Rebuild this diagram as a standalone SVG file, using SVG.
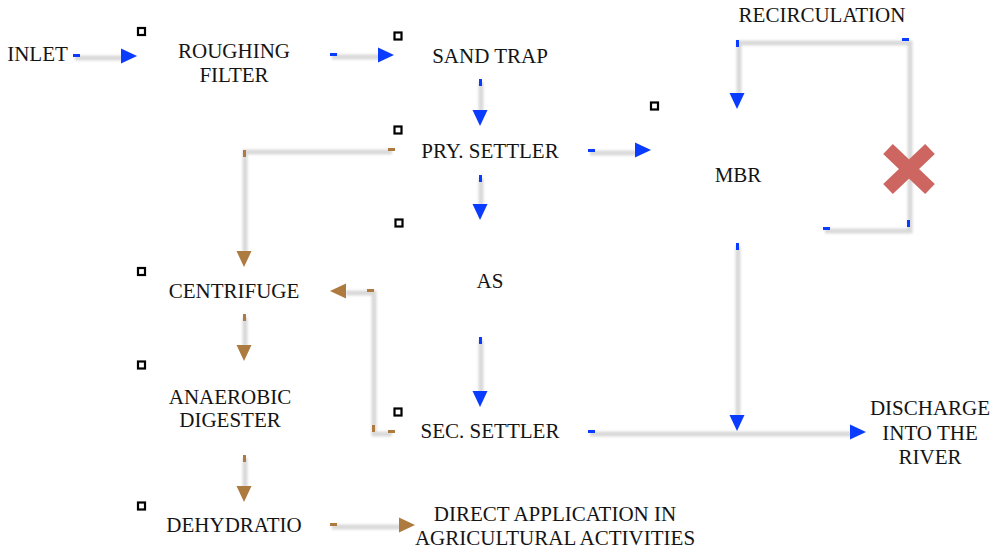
<svg xmlns="http://www.w3.org/2000/svg" width="996" height="549" viewBox="0 0 996 549">
<style>
.t{font-family:"Liberation Serif","Times New Roman",Tinos,"Noto Serif","DejaVu Serif",serif;font-size:21px;fill:#141414;text-anchor:middle}
.ln{fill:none;stroke:#d9d9d9;stroke-width:5;filter:url(#sh)}
.b{fill:#0a3cff}
.o{fill:#ad7a40}
.sq{fill:#fff;stroke:#000;stroke-width:2.2}
</style>
<defs>
<filter id="sh" filterUnits="userSpaceOnUse" x="0" y="0" width="996" height="549"><feGaussianBlur stdDeviation="0.9"/></filter>
<path id="ah" d="M0,0 L-16,-7.5 L-16,7.5 Z"/>
</defs>
<rect width="996" height="549" fill="#fff"/>
<g id="connectors">
<path class="ln" d="M75,58 H122"/><rect class="b" x="73" y="54" width="7" height="3"/><use href="#ah" class="b" transform="translate(137,56)"/>
<path class="ln" d="M332,57 H379"/><rect class="b" x="330" y="53" width="7" height="3"/><use href="#ah" class="b" transform="translate(394,55)"/>
<path class="ln" d="M481,82 V111"/><rect class="b" x="479" y="79" width="3" height="7"/><use href="#ah" class="b" transform="translate(480,126) rotate(90)"/>
<path class="ln" d="M590,153 H636"/><rect class="b" x="588" y="149" width="7" height="3"/><use href="#ah" class="b" transform="translate(651,150)"/>
<path class="ln" d="M481,178 V205"/><rect class="b" x="479" y="175" width="3" height="7"/><use href="#ah" class="b" transform="translate(480,220) rotate(90)"/>
<path class="ln" d="M392,152 H245 V252"/><rect class="o" x="388" y="148" width="7" height="3"/><rect class="o" x="243" y="150" width="3" height="7"/><use href="#ah" class="o" transform="translate(244,267) rotate(90)"/>
<path class="ln" d="M392,434 H374 V293 H346"/><rect class="o" x="388" y="430" width="7" height="3"/><rect class="o" x="372" y="425" width="3" height="7"/><rect class="o" x="367" y="289" width="7" height="3"/><use href="#ah" class="o" transform="translate(330,291) rotate(180)"/>
<path class="ln" d="M481,340 V392"/><rect class="b" x="479" y="337" width="3" height="7"/><use href="#ah" class="b" transform="translate(480,407) rotate(90)"/>
<path class="ln" d="M590,434 H851"/><rect class="b" x="588" y="430" width="7" height="3"/><use href="#ah" class="b" transform="translate(866,432)"/>
<path class="ln" d="M738,246 V416"/><rect class="b" x="736" y="243" width="3" height="7"/><use href="#ah" class="b" transform="translate(737,431) rotate(90)"/>
<path class="ln" d="M825,231 H910 V43 H739 V94"/><rect class="b" x="823" y="227" width="7" height="3"/><rect class="b" x="907" y="220" width="3" height="7"/><rect class="b" x="902" y="38" width="7" height="3"/><rect class="b" x="736" y="40" width="3" height="7"/><use href="#ah" class="b" transform="translate(737,109) rotate(90)"/>
<path class="ln" d="M245,317 V346"/><rect class="o" x="243" y="314" width="3" height="7"/><use href="#ah" class="o" transform="translate(244,361) rotate(90)"/>
<path class="ln" d="M245,458 V487"/><rect class="o" x="243" y="455" width="3" height="7"/><use href="#ah" class="o" transform="translate(244,502) rotate(90)"/>
<path class="ln" d="M332,527 H400"/><rect class="o" x="330" y="523" width="7" height="3"/><use href="#ah" class="o" transform="translate(415,525)"/>
</g>
<g id="cross"><path d="M888,149 L930,189 M930,149 L888,189" stroke="#cd6660" stroke-width="14" fill="none"/></g>
<g id="inlet"><text class="t" x="37.5" y="61">INLET</text></g>
<g id="roughing"><rect class="sq" x="138" y="28" width="7" height="7"/><text class="t" x="234" y="58">ROUGHING</text><text class="t" x="234" y="82">FILTER</text></g>
<g id="sandtrap"><rect class="sq" x="394.5" y="32.5" width="7" height="7"/><text class="t" x="490" y="63">SAND TRAP</text></g>
<g id="prysettler"><rect class="sq" x="394.5" y="126.5" width="7" height="7"/><text class="t" x="490" y="158">PRY. SETTLER</text></g>
<g id="mbr"><rect class="sq" x="651" y="102.5" width="7" height="7"/><text class="t" x="738" y="182">MBR</text></g>
<g id="recirculation"><text class="t" x="822" y="22">RECIRCULATION</text></g>
<g id="as"><rect class="sq" x="395.5" y="219.5" width="7" height="7"/><text class="t" x="490" y="288">AS</text></g>
<g id="centrifuge"><rect class="sq" x="138" y="268" width="7" height="7"/><text class="t" x="234" y="298">CENTRIFUGE</text></g>
<g id="secsettler"><rect class="sq" x="394.5" y="408.5" width="7" height="7"/><text class="t" x="490" y="438">SEC. SETTLER</text></g>
<g id="anaerobic"><rect class="sq" x="138" y="361.5" width="7" height="7"/><text class="t" x="230" y="404">ANAEROBIC</text><text class="t" x="230" y="427">DIGESTER</text></g>
<g id="dehydratio"><rect class="sq" x="138" y="502.5" width="7" height="7"/><text class="t" x="234" y="532">DEHYDRATIO</text></g>
<g id="direct"><text class="t" x="555" y="521">DIRECT APPLICATION IN</text><text class="t" x="555" y="545">AGRICULTURAL ACTIVITIES</text></g>
<g id="discharge"><text class="t" x="930" y="415">DISCHARGE</text><text class="t" x="930" y="440">INTO THE</text><text class="t" x="930" y="464">RIVER</text></g>
</svg>
